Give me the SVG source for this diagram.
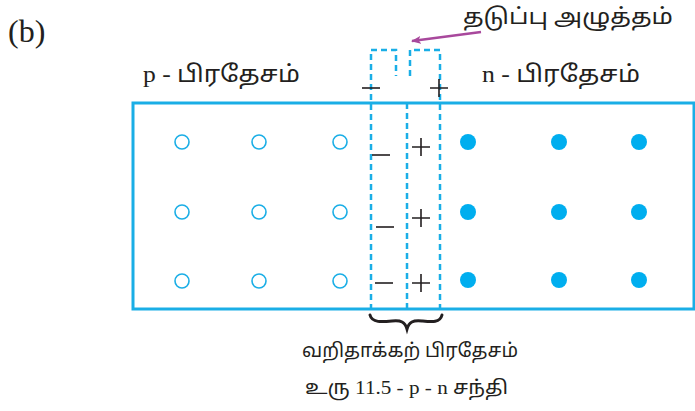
<svg xmlns="http://www.w3.org/2000/svg" width="695" height="411" viewBox="0 0 695 411">
<defs>
<style>
.box{fill:none;stroke:#1aaee6;stroke-width:3}
.dash{fill:none;stroke:#1aaee6;stroke-width:2.5;stroke-dasharray:6,4}
.op{fill:#fff;stroke:#1aaee6;stroke-width:1.6}
.fi{fill:#00aeef}
.t{font-family:"Liberation Serif","Noto Sans Tamil","Noto Sans",serif;fill:#231f20}
.sg{stroke:#231f20;stroke-width:1.6;fill:none}
</style>
<marker id="ah" markerWidth="10" markerHeight="8" refX="9" refY="4" orient="auto" markerUnits="userSpaceOnUse">
<path d="M0,0 L10,4 L0,8 L2.5,4 Z" fill="#a8489c"/>
</marker>
</defs>
<rect width="695" height="411" fill="#fff"/>
<text class="t" x="8" y="42" font-size="32">(b)</text>

<g id="p-region">
<rect class="box" x="133" y="103" width="561" height="206"/>
<text class="t" x="143" y="82" font-size="23" textLength="157" lengthAdjust="spacingAndGlyphs">p - பிரதேசம்</text>
<g id="holes">
<circle class="op" cx="182" cy="142" r="7"/><circle class="op" cx="259" cy="142" r="7"/><circle class="op" cx="340" cy="142" r="7"/>
<circle class="op" cx="182" cy="212" r="7"/><circle class="op" cx="259" cy="212" r="7"/><circle class="op" cx="340" cy="212" r="7"/>
<circle class="op" cx="182" cy="281" r="7"/><circle class="op" cx="259" cy="281" r="7"/><circle class="op" cx="340" cy="281" r="7"/>
</g>
</g>

<g id="n-region">
<text class="t" x="482" y="82" font-size="23" textLength="158" lengthAdjust="spacingAndGlyphs">n - பிரதேசம்</text>
<g id="electrons">
<circle class="fi" cx="468" cy="142" r="8"/><circle class="fi" cx="559" cy="142" r="8"/><circle class="fi" cx="639" cy="142" r="8"/>
<circle class="fi" cx="468" cy="212" r="8"/><circle class="fi" cx="559" cy="212" r="8"/><circle class="fi" cx="639" cy="212" r="8"/>
<circle class="fi" cx="468" cy="280" r="8"/><circle class="fi" cx="559" cy="280" r="8"/><circle class="fi" cx="639" cy="280" r="8"/>
</g>
</g>

<g id="depletion">
<path class="dash" d="M371,310 V50 H396 V76"/>
<path class="dash" d="M410,76 V50 H440 V310"/>
<path class="dash" d="M407,103 V310"/>
<g id="signs">
<path class="sg" d="M362,88 H380"/>
<path class="sg" d="M430,88 H448 M439,79 V97"/>
<path class="sg" d="M372,155 H390"/>
<path class="sg" d="M412,147 H430 M421,138 V156"/>
<path class="sg" d="M376,227 H394"/>
<path class="sg" d="M412,218 H430 M421,209 V227"/>
<path class="sg" d="M375,283 H393"/>
<path class="sg" d="M412,283 H430 M421,274 V292"/>
</g>
</g>

<g id="barrier-label">
<text class="t" x="463" y="24" font-size="22" textLength="210" lengthAdjust="spacingAndGlyphs">தடுப்பு அழுத்தம்</text>
</g>

<g id="connectors">
<path d="M481,32 L412,41" stroke="#a8489c" stroke-width="2.5" fill="none" marker-end="url(#ah)"/>
<path d="M370,315 C372,323 382,322 392,321 C401,320 405,322 407,329 C409,322 413,320 422,321 C432,322 440,323 442,315" fill="none" stroke="#231f20" stroke-width="3" stroke-linecap="round"/>
</g>

<g id="captions">
<text class="t" x="302" y="357" font-size="19" textLength="216" lengthAdjust="spacingAndGlyphs">வறிதாக்கற் பிரதேசம்</text>
<text class="t" x="305" y="394" font-size="19" textLength="203" lengthAdjust="spacingAndGlyphs">உரு 11.5 - p - n சந்தி</text>
</g>
</svg>
